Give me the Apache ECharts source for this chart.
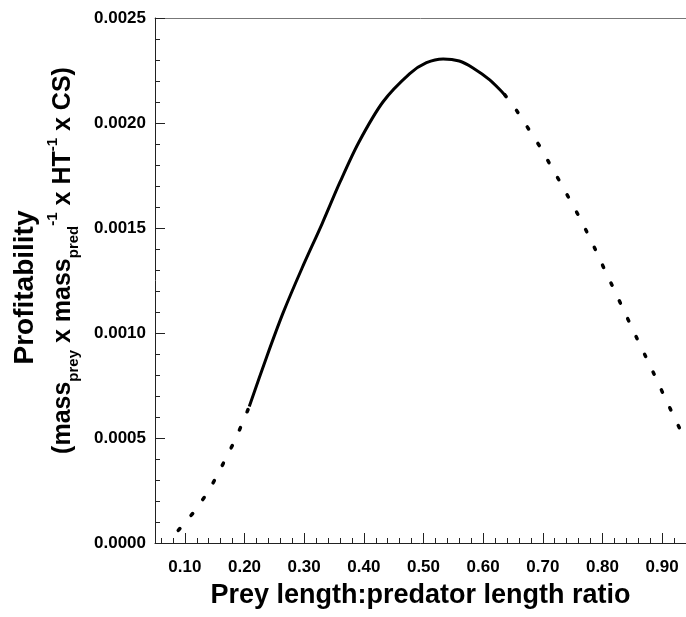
<!DOCTYPE html>
<html>
<head>
<meta charset="utf-8">
<script src="https://cdn.jsdelivr.net/npm/echarts@6/dist/echarts.min.js"></script>
<style>
  html, body { margin: 0; padding: 0; background: #fff; }
  #chart { width: 686px; height: 617px; }
</style>
</head>
<body>
<div id="chart"></div>
<script>
// values
const lowDotX = [0.089, 0.116, 0.137, 0.154, 0.169, 0.184, 0.197, 0.208]
const lowDotY = [0.000060, 0.000150, 0.000235, 0.000320, 0.000405, 0.000489, 0.000574, 0.000650]

const solidX = [0.208, 0.237, 0.265, 0.296, 0.330, 0.360, 0.391, 0.432, 0.477, 0.505, 0.533, 0.560, 0.583, 0.611, 0.636]
const solidY = [0.000650, 0.000885, 0.001098, 0.001306, 0.001520, 0.001718, 0.001905, 0.002100, 0.002235, 0.002287, 0.002305, 0.002295, 0.002262, 0.002205, 0.002135]

const highDotX = [0.636, 0.656, 0.677, 0.696, 0.713, 0.730, 0.746, 0.762, 0.777, 0.791, 0.805, 0.819, 0.833, 0.847, 0.861, 0.875, 0.889, 0.903, 0.917, 0.933]
const highDotY = [0.002135, 0.002060, 0.001968, 0.001884, 0.001798, 0.001714, 0.001631, 0.001548, 0.001463, 0.001380, 0.001293, 0.001210, 0.001124, 0.001040, 0.000955, 0.000873, 0.000789, 0.000703, 0.000619, 0.000524]

const xTickLabels = [0.10, 0.20, 0.30, 0.40, 0.50, 0.60, 0.70, 0.80, 0.90]
const xMinorTicks = [0.06, 0.08, 0.12, 0.14, 0.16, 0.18, 0.22, 0.24, 0.26, 0.28, 0.32, 0.34, 0.36, 0.38,
  0.42, 0.44, 0.46, 0.48, 0.52, 0.54, 0.56, 0.58, 0.62, 0.64, 0.66, 0.68, 0.72, 0.74, 0.76, 0.78,
  0.82, 0.84, 0.86, 0.88, 0.92]

const FONT = '"Liberation Sans", Arial, sans-serif'
const X_MIN = 0.05
const X_MAX = 0.94

function pairs(xs, ys) {
  return xs.map((x, i) => [x, ys[i]])
}

const chart = echarts.init(document.getElementById('chart'), null, { renderer: 'canvas' })

const dotted = {
  color: '#000',
  width: 3.5,
  type: [2.5, 17.2],
  cap: 'round'
}

const option = {
  backgroundColor: '#fff',
  animation: false,
  grid: { left: 155, right: 0, top: 18, bottom: 74 },
  xAxis: [
    {
      type: 'value',
      min: X_MIN,
      max: X_MAX,
      position: 'bottom',
      axisLine: { show: true, onZero: false, lineStyle: { color: '#222', width: 1 } },
      axisTick: { show: true, inside: true, length: 10, customValues: xTickLabels, lineStyle: { color: '#222' } },
      axisLabel: {
        customValues: xTickLabels,
        formatter: v => v.toFixed(2),
        margin: 16,
        color: '#000',
        fontFamily: FONT,
        fontWeight: 'bold',
        fontSize: 17
      },
      splitLine: { show: false },
      name: 'Prey length:predator length ratio',
      nameLocation: 'middle',
      nameGap: 39,
      nameTextStyle: { color: '#000', fontFamily: FONT, fontWeight: 'bold', fontSize: 27 }
    },
    {
      type: 'value',
      min: X_MIN,
      max: X_MAX,
      position: 'bottom',
      axisLine: { show: false },
      axisTick: { show: true, inside: true, length: 5, customValues: xMinorTicks, lineStyle: { color: '#222' } },
      axisLabel: { show: false },
      splitLine: { show: false }
    },
    {
      type: 'value',
      min: X_MIN,
      max: X_MAX,
      position: 'top',
      axisLine: { show: true, lineStyle: { color: '#777', width: 1 } },
      axisTick: { show: false },
      axisLabel: { show: false },
      splitLine: { show: false }
    }
  ],
  yAxis: {
    type: 'value',
    min: 0,
    max: 0.0025,
    interval: 0.0005,
    axisLine: { show: true, lineStyle: { color: '#222', width: 1 } },
    axisTick: { show: true, inside: true, length: 10, lineStyle: { color: '#222' } },
    minorTick: { show: true, splitNumber: 5, length: 5, lineStyle: { color: '#222' } },
    axisLabel: {
      formatter: v => v.toFixed(4),
      margin: 9,
      color: '#000',
      fontFamily: FONT,
      fontWeight: 'bold',
      fontSize: 17
    },
    splitLine: { show: false },
    // leading/trailing pads shift each line along the axis, as in the picture
    name: '{a|Profitability}\n{p| }{b|(mass}{s|prey}{b| x mass}{s|pred}{u|-1}{b| x HT}{u|-1}{b| x CS)}',
    nameLocation: 'middle',
    nameRotate: 90,
    nameGap: 74,
    nameTextStyle: {
      color: '#000',
      fontFamily: FONT,
      fontWeight: 'bold',
      rich: {
        a: { fontSize: 28, fontFamily: FONT, fontWeight: 'bold', lineHeight: 40, padding: [0, 14, 0, 0], color: '#000' },
        p: { fontSize: 25, width: 40, lineHeight: 36 },
        b: { fontSize: 25, fontFamily: FONT, fontWeight: 'bold', lineHeight: 36, verticalAlign: 'middle', color: '#000' },
        s: { fontSize: 15, fontFamily: FONT, fontWeight: 'bold', lineHeight: 15, verticalAlign: 'bottom', color: '#000' },
        u: { fontSize: 15, fontFamily: FONT, fontWeight: 'bold', lineHeight: 15, verticalAlign: 'top', color: '#000' }
      }
    }
  },
  series: [
    {
      type: 'line',
      data: pairs(lowDotX, lowDotY),
      showSymbol: false,
      lineStyle: dotted
    },
    {
      type: 'line',
      data: pairs(solidX, solidY),
      showSymbol: false,
      smooth: 0.3,
      lineStyle: { color: '#000', width: 3 }
    },
    {
      type: 'line',
      data: pairs(highDotX, highDotY),
      showSymbol: false,
      lineStyle: dotted
    }
  ]
}

chart.setOption(option)
</script>
</body>
</html>
